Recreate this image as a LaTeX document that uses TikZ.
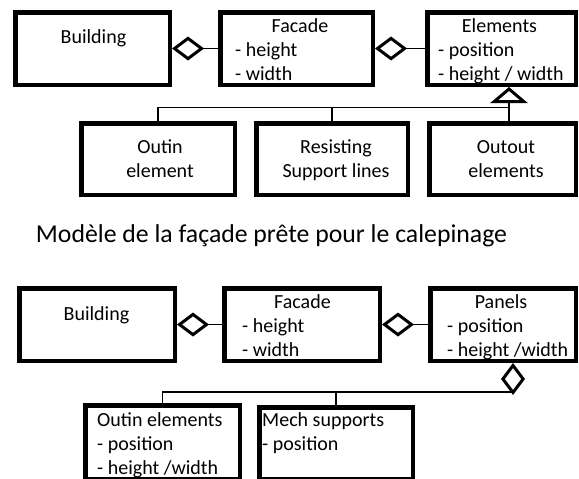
\documentclass[tikz,border=0pt]{standalone}
\usepackage{fontspec}
\setmainfont{Carlito}
\usetikzlibrary{arrows.meta}

\begin{document}
\begin{tikzpicture}[x=1pt, y=-1pt]
        \tikzstyle{box}=[draw, line width=4.5pt, inner sep=0pt, minimum width=153pt, minimum height=72.5pt]
        \tikzstyle{txt}=[inner sep=0pt, font=\fontsize{20}{24}\selectfont]
        \tikzstyle{link}=[line width=1.6pt]
        \tikzstyle{aggr}=[link, -{Diamond[open, length=32pt, width=24pt, line width=3pt]}]
        \tikzstyle{inherit}=[link, -{Triangle[open, length=16pt, width=37pt, line width=3pt]}]
        \useasboundingbox (0,0) rectangle (579,479);
        % model of the facade
        \node [box, minimum width=154.5pt] (bld) at (92.5,48.5) {};
        \node [box, minimum width=152.5pt] (fac) at (296.5,48.5) {};
        \node [box, minimum width=148.5pt] (el) at (501.5,48.5) {};
        \node [box, minimum width=153.5pt, minimum height=71.5pt] (oi) at (158,159) {};
        \node [box, minimum width=151.5pt, minimum height=71.5pt] (rs) at (332,159) {};
        \node [box, minimum width=146.5pt, minimum height=71.5pt] (oo) at (502.5,159) {};
        \node [txt, anchor=base] (bldT) at (93.5,43) {Building};
        \node [txt, anchor=base] (facT) at (300,32) {Facade};
        \node [txt, anchor=base west, align=left] (facA) at (235,80) {- height\\- width};
        \node [txt, anchor=base] (elT) at (499.5,32) {Elements};
        \node [txt, anchor=base west, align=left] (elA) at (438,80) {- position\\- height / width};
        \node [txt, anchor=base, align=center] (oiT) at (160,177) {Outin\\element};
        \node [txt, anchor=base, align=center] (rsT) at (336,177) {Resisting\\Support lines};
        \node [txt, anchor=base, align=center] (ooT) at (506,177) {Outout\\elements};
        \draw [aggr] (fac.west) -- (bld.east);
        \draw [aggr] (el.west) -- (fac.east);
        \coordinate (jt) at (509,107.5);
        \draw [link] (oi.north) |- (jt);
        \draw [link] (rs.north) -- (rs.north |- jt);
        \draw [link] (oo.north -| jt) -- (jt);
        \draw [inherit] (jt) -- (jt |- el.south);
        \node [inner sep=0pt, font=\fontsize{25.75}{30}\selectfont, anchor=base] (cap) at (271.5,242) {Modèle de la façade prête pour le calepinage};
        % facade ready for layout
        \node [box, minimum width=155.5pt] (bld2) at (97,324.5) {};
        \node [box, minimum width=155.5pt] (fac2) at (302,324.5) {};
        \node [box, minimum width=145.5pt] (pan) at (503,324.5) {};
        \node [box, minimum width=154.5pt, minimum height=73.5pt] (oie) at (162.5,442) {};
        \node [box, minimum width=153.5pt, minimum height=71.5pt] (mech) at (336,443) {};
        \node [txt, anchor=base] (bld2T) at (96.5,320) {Building};
        \node [txt, anchor=base] (fac2T) at (302.5,308) {Facade};
        \node [txt, anchor=base west, align=left] (fac2A) at (242,356) {- height\\- width};
        \node [txt, anchor=base] (panT) at (501,308) {Panels};
        \node [txt, anchor=base west, align=left] (panA) at (447,356) {- position\\- height /width};
        \node [txt, anchor=base west, align=left] (oieT) at (97,474) {Outin elements\\- position\\- height /width};
        \node [txt, anchor=base west, align=left] (mechT) at (262,450) {Mech supports\\- position};
        \draw [aggr] (fac2.west) -- (bld2.east);
        \draw [aggr] (pan.west) -- (fac2.east);
        \coordinate (jb) at (513,392);
        \draw [link] (oie.north) |- (jb);
        \draw [link] (mech.north) -- (mech.north |- jb);
        \draw [aggr] (jb) -- (jb |- pan.south);
\end{tikzpicture}
\end{document}
